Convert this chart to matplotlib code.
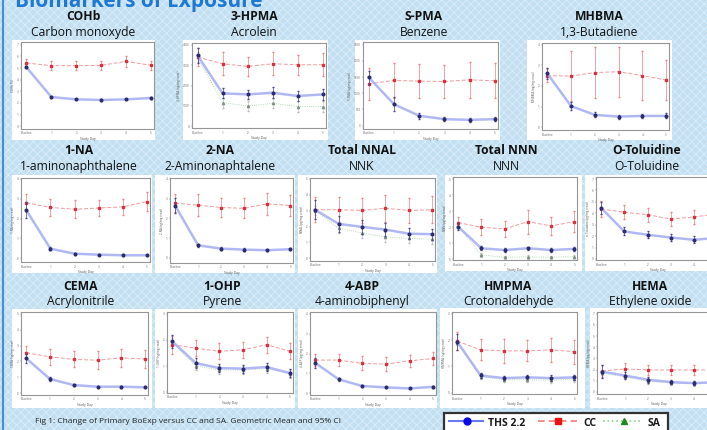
import matplotlib
matplotlib.use("Agg")
import matplotlib.pyplot as plt
from matplotlib.lines import Line2D
from matplotlib.patches import Rectangle

plt.rcParams["font.family"] = ["Open Sans", "DejaVu Sans"]
plt.rcParams["hatch.linewidth"] = 0.6

W, H = 707, 430

days = ["Baseline", "1", "2", "3", "4", "5"]

biomarkers = ["COHb", "3-HPMA", "S-PMA", "MHBMA",
              "1-NA", "2-NA", "Total NNAL", "Total NNN", "O-Toluidine",
              "CEMA", "1-OHP", "4-ABP", "HMPMA", "HEMA"]
sources = ["Carbon monoxyde", "Acrolein", "Benzene", "1,3-Butadiene",
           "1-aminonaphthalene", "2-Aminonaphtalene", "NNK", "NNN", "O-Toluidine",
           "Acrylonitrile", "Pyrene", "4-aminobiphenyl", "Crotonaldehyde", "Ethylene oxide"]
y_labels = ["COHb (%)", "3-HPMA (ng/mg creat)", "S-PMA (pg/mg creat)", "MHBMA (ng/mg creat)",
            "1-NA (ng/mg creat)", "2-NA (ng/mg creat)", "NNAL (pg/mg creat)", "NNN (pg/mg creat)",
            "o-Toluidine (pg/mg creat)", "CEMA (ng/mg creat)", "1-OHP (ng/mg creat)",
            "4-ABP (pg/mg creat)", "HMPMA (ng/mg creat)", "HEMA (pg/mg creat)"]

y_tick_max = [7, 4000, 2500, 4, 4, 4, 5, 5, 7, 5, 3, 4, 3, 7]
y_tick_step = [1, 1000, 500, 1, 1, 1, 1, 1, 1, 1, 1, 1, 1, 1]
y_lims = [(-0.23, 7.23), (-80, 4080), (-103, 2582), (-0.13, 4.08),
          (-0.2, 4.05), (-0.27, 4.05), (-0.17, 5.06), (-0.04, 5.13), (-0.09, 7.18),
          (-0.1, 5.1), (-0.03, 3.06), (-0.08, 4.08), (-0.04, 3.06), (-0.18, 7.15)]

cc_mean = [
    [5.43, 5.2, 5.2, 5.23, 5.57, 5.23],
    [3390, 3065, 2935, 3065, 3015, 3015],
    [1290, 1395, 1375, 1365, 1415, 1385],
    [2.5, 2.48, 2.65, 2.69, 2.5, 2.29],
    [2.8, 2.56, 2.47, 2.53, 2.59, 2.86],
    [2.77, 2.67, 2.55, 2.51, 2.74, 2.65],
    [3.06, 3.06, 3.02, 3.15, 3.02, 3.06],
    [2.29, 2.0, 1.9, 2.35, 2.08, 2.35],
    [4.38, 4.09, 3.88, 3.5, 3.68, 3.95],
    [2.54, 2.29, 2.13, 2.08, 2.23, 2.15],
    [1.81, 1.68, 1.56, 1.62, 1.81, 1.56],
    [1.67, 1.67, 1.5, 1.47, 1.63, 1.75],
    [1.96, 1.63, 1.59, 1.59, 1.63, 1.56],
    [1.88, 2.06, 1.97, 1.97, 1.97, 1.97],
]
cc_err = [
    [0.3, 0.4, 0.4, 0.4, 0.45, 0.4],
    [450, 560, 480, 560, 500, 560],
    [500, 535, 520, 520, 560, 540],
    [0.3, 1.2, 1.25, 1.2, 1.2, 0.95],
    [0.45, 0.45, 0.45, 0.4, 0.4, 0.5],
    [0.45, 0.55, 0.5, 0.5, 0.55, 0.55],
    [0.8, 0.8, 0.8, 0.85, 0.8, 0.85],
    [0.35, 0.5, 0.5, 0.75, 0.55, 0.65],
    [0.7, 0.6, 0.6, 0.6, 0.6, 0.6],
    [0.4, 0.5, 0.5, 0.55, 0.55, 0.55],
    [0.35, 0.3, 0.3, 0.3, 0.3, 0.3],
    [0.3, 0.3, 0.35, 0.35, 0.3, 0.35],
    [0.35, 0.4, 0.45, 0.4, 0.45, 0.45],
    [0.5, 0.5, 0.45, 0.45, 0.45, 0.45],
]
ths_mean = [
    [5.06, 2.51, 2.31, 2.26, 2.31, 2.43],
    [3470, 1615, 1565, 1645, 1485, 1565],
    [1495, 665, 305, 200, 180, 200],
    [2.61, 1.03, 0.6, 0.52, 0.55, 0.55],
    [2.42, 0.47, 0.22, 0.17, 0.14, 0.14],
    [2.65, 0.63, 0.46, 0.41, 0.38, 0.43],
    [3.06, 2.17, 1.98, 1.81, 1.55, 1.52],
    [2.04, 0.69, 0.58, 0.69, 0.58, 0.65],
    [4.47, 2.41, 2.12, 1.88, 1.68, 1.85],
    [2.19, 0.9, 0.52, 0.42, 0.42, 0.38],
    [1.94, 1.11, 0.92, 0.9, 0.96, 0.73],
    [1.53, 0.7, 0.37, 0.3, 0.25, 0.33],
    [1.94, 0.66, 0.56, 0.59, 0.56, 0.59],
    [1.82, 1.47, 1.09, 0.88, 0.79, 0.88],
]
ths_err = [
    [0.1, 0.08, 0.06, 0.06, 0.06, 0.08],
    [350, 250, 220, 260, 240, 260],
    [200, 220, 100, 60, 60, 70],
    [0.25, 0.2, 0.12, 0.1, 0.1, 0.12],
    [0.4, 0.08, 0.05, 0.04, 0.04, 0.04],
    [0.4, 0.08, 0.06, 0.06, 0.06, 0.06],
    [0.6, 0.5, 0.45, 0.4, 0.35, 0.35],
    [0.2, 0.12, 0.1, 0.1, 0.1, 0.1],
    [0.5, 0.35, 0.3, 0.3, 0.3, 0.3],
    [0.3, 0.15, 0.08, 0.06, 0.06, 0.06],
    [0.25, 0.18, 0.15, 0.15, 0.15, 0.15],
    [0.25, 0.08, 0.05, 0.04, 0.04, 0.04],
    [0.3, 0.1, 0.08, 0.08, 0.1, 0.1],
    [0.6, 0.3, 0.25, 0.2, 0.2, 0.2],
]
sa_mean = [
    None,
    [3400, 1160, 1000, 1130, 970, 970],
    None, None, None, None,
    [3.0, 1.9, 1.6, 1.35, 1.25, 1.2],
    [2.1, 0.27, 0.13, 0.15, 0.13, 0.17],
    None, None,
    [1.9, 1.0, 0.85, 0.85, 0.9, 0.7],
    None,
    [1.9, 0.62, 0.5, 0.5, 0.48, 0.52],
    [1.7, 1.35, 0.95, 0.8, 0.75, 0.8],
]
sa_err = [None, 250, None, None, None, None, 0.3, 0.1, None, None, 0.15, None, 0.1, 0.2]

# layout in pixels: axes frames, white panels, title centres
frames = [(21, 42, 154, 129), (192, 43, 326, 128), (363, 42, 498, 129), (542, 43, 669, 130),
          (21, 178, 150, 262), (170, 178, 293, 263), (310, 178, 435, 261), (453, 177, 577, 260),
          (596, 177, 720, 260),
          (21, 312, 148, 395), (167, 312, 293, 393), (310, 312, 436, 395), (452, 312, 577, 394),
          (597, 312, 720, 394)]
panels = [(12, 40, 155, 140), (183, 40, 328, 140), (355, 40, 500, 140), (527, 40, 672, 140),
          (12, 175, 152, 273), (155, 175, 295, 273), (298, 175, 437, 273), (445, 175, 582, 271),
          (585, 175, 707, 271),
          (12, 309, 152, 408), (155, 309, 295, 408), (298, 309, 437, 408), (440, 308, 585, 408),
          (590, 308, 707, 408)]
title_x = [83, 254, 424, 599, 79, 220, 362, 506, 647, 81, 222, 362, 508, 650]
row_of = [0, 0, 0, 0, 1, 1, 1, 1, 1, 2, 2, 2, 2, 2]
row_base = [(20, 35.7), (154, 170), (290.5, 305)]


def fx(x):
    return x / W


def fy(y):
    return 1 - y / H


fig = plt.figure(figsize=(W / 100, H / 100), dpi=100)
fig.patch.set_facecolor("#c6e2f3")

bg = Rectangle((0, 0), 1, 1, transform=fig.transFigure, facecolor="#c2e0f2",
               edgecolor="#dcedf8", linewidth=0, hatch="xxxx", zorder=-20)
fig.add_artist(bg)
fig.add_artist(Line2D([fx(3), fx(3)], [0, 1], transform=fig.transFigure,
                      color="#4a90d0", lw=1.6, zorder=-5))

fig.text(fx(15), fy(7.5), "Biomarkers of Exposure", fontsize=15, fontweight="bold",
         color="#1f78d1", va="baseline", ha="left")

x = list(range(len(days)))

for i in range(len(biomarkers)):
    px0, py0, px1, py1 = panels[i]
    fig.add_artist(Rectangle((fx(px0), fy(py1)), fx(px1 - px0), (py1 - py0) / H,
                             transform=fig.transFigure, facecolor="white",
                             edgecolor="none", zorder=-10))
    b1, b2 = row_base[row_of[i]]
    fig.text(fx(title_x[i]), fy(b1), biomarkers[i], fontsize=8.7, fontweight="bold",
             ha="center", va="baseline", color="#111111")
    fig.text(fx(title_x[i]), fy(b2), sources[i], fontsize=8.7,
             ha="center", va="baseline", color="#111111")

    ax0, ay0, ax1, ay1 = frames[i]
    ax = fig.add_axes([fx(ax0), fy(ay1), fx(ax1 - ax0), (ay1 - ay0) / H])
    ax.set_facecolor("white")

    if sa_mean[i] is not None:
        ax.errorbar(x, sa_mean[i], yerr=sa_err[i], color="#9fcf9f", ls=":", lw=0.6,
                    marker="^", ms=1.6, mfc="#7f927f", mec="#7f927f",
                    ecolor="#b8b8b8", elinewidth=0.4, capsize=0.8, zorder=2)
    ax.errorbar(x, cc_mean[i], yerr=cc_err[i], color="#f29a9a", ls=(0, (4, 2)), lw=0.7,
                marker="s", ms=1.6, mfc="#d8303c", mec="#d8303c",
                ecolor="#f08080", elinewidth=0.5, capsize=1.0, zorder=3)
    ax.plot(x, ths_mean[i], color="#a3acf3", lw=1.8, alpha=0.85, zorder=4)
    ax.errorbar(x, ths_mean[i], yerr=ths_err[i], color="none", ls="none",
                marker="o", ms=1.9, mfc="#2b2b6e", mec="#2b2b6e",
                ecolor="#45458a", elinewidth=0.5, capsize=0.9, zorder=5)

    ax.set_xlim(-0.22, 5.12)
    ax.set_ylim(*y_lims[i])
    ax.set_xticks(x)
    ax.set_xticklabels(days)
    n = int(round(y_tick_max[i] / y_tick_step[i]))
    ax.set_yticks([k * y_tick_step[i] for k in range(n + 1)])
    ax.tick_params(labelsize=2.2, length=1.0, width=0.3, pad=0.8, colors="#666666")
    ax.set_xlabel("Study Day", fontsize=2.4, labelpad=0.8, color="#555555")
    ax.set_ylabel(y_labels[i], fontsize=2.2, labelpad=1.0, color="#555555")
    for sp in ax.spines.values():
        sp.set_color("#959595")
        sp.set_linewidth(0.8)

fig.text(fx(35), fy(423), "Fig 1: Change of Primary BoExp versus CC and SA. Geometric Mean and 95% CI",
         fontsize=6, color="#222222", ha="left", va="baseline")

# legend
fig.add_artist(Rectangle((fx(444), fy(433)), fx(668 - 444), 20 / H, transform=fig.transFigure,
                         facecolor="white", edgecolor="#333333", lw=1.6, zorder=5))
ly = fy(421)
fig.add_artist(Line2D([fx(449), fx(483)], [ly, ly], transform=fig.transFigure,
                      color="#6b78f0", lw=1.5, zorder=6))
fig.add_artist(Line2D([fx(467)], [ly], transform=fig.transFigure, marker="o", ms=5,
                      color="#0a0ae8", zorder=7))
fig.add_artist(Line2D([fx(538), fx(577)], [ly, ly], transform=fig.transFigure,
                      color="#f27a7a", lw=1.2, ls=(0, (4, 2.5)), zorder=6))
fig.add_artist(Line2D([fx(558)], [ly], transform=fig.transFigure, marker="s", ms=4.5,
                      color="#ee1111", zorder=7))
fig.add_artist(Line2D([fx(603), fx(640)], [ly, ly], transform=fig.transFigure,
                      color="#8fd08f", lw=1.2, ls=":", zorder=6))
fig.add_artist(Line2D([fx(624)], [ly], transform=fig.transFigure, marker="^", ms=4.5,
                      color="#1e8a1e", zorder=7))
for tx, label in [(488, "THS 2.2"), (583, "CC"), (648, "SA")]:
    fig.text(fx(tx), fy(425.7), label, fontsize=7.5, fontweight="bold", color="#1a1a1a",
             ha="left", va="baseline", zorder=8)

fig.savefig("out.png", dpi=100, facecolor=fig.get_facecolor())
